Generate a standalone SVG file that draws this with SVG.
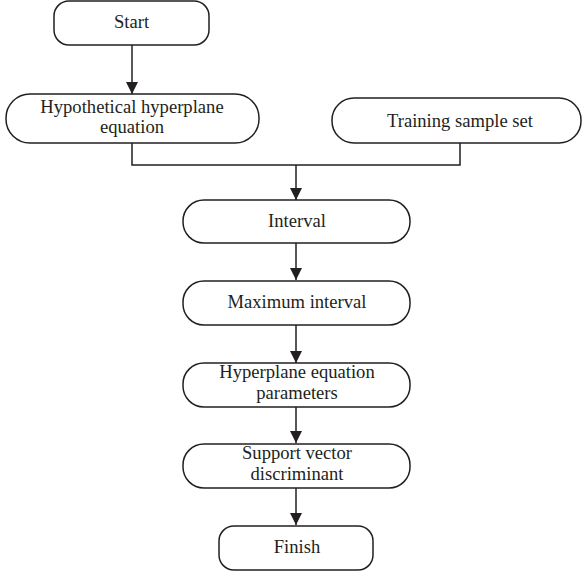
<svg xmlns="http://www.w3.org/2000/svg" width="583" height="572" viewBox="0 0 583 572">
<style>
.box{fill:#fff;stroke:#231f20;stroke-width:1.5}
.t{font-family:"Liberation Serif","Times New Roman",serif;font-size:18.6px;fill:#231f20;text-anchor:middle}
.c{fill:none;stroke:#231f20;stroke-width:1.5}
</style>
<defs>
<marker id="ah" markerWidth="12" markerHeight="13" refX="12" refY="6" orient="auto" markerUnits="userSpaceOnUse" viewBox="0 0 12 12">
<path d="M0,0 L12,6 L0,12 Z" fill="#231f20"/>
</marker>
</defs>
<rect width="583" height="572" fill="#fff"/>
<g id="connectors">
<path class="c" d="M132,45 V94" marker-end="url(#ah)"/>
<path class="c" d="M132,143 V165 H460 V143"/>
<path class="c" d="M296,165 V200" marker-end="url(#ah)"/>
<path class="c" d="M296,243 V280" marker-end="url(#ah)"/>
<path class="c" d="M296,325 V363" marker-end="url(#ah)"/>
<path class="c" d="M296,407 V443" marker-end="url(#ah)"/>
<path class="c" d="M296,488 V525" marker-end="url(#ah)"/>
</g>
<g id="start"><rect class="box" x="54" y="1" width="155" height="44" rx="15"/><text class="t" x="131.5" y="28">Start</text></g>
<g id="hypothetical"><rect class="box" x="6" y="94" width="253" height="49" rx="24"/><text class="t" x="132" y="113">Hypothetical hyperplane</text><text class="t" x="132" y="133">equation</text></g>
<g id="training"><rect class="box" x="332" y="98" width="249" height="45" rx="22"/><text class="t" x="460" y="127">Training sample set</text></g>
<g id="interval"><rect class="box" x="183" y="200" width="227" height="43" rx="21"/><text class="t" x="297" y="227">Interval</text></g>
<g id="maxinterval"><rect class="box" x="183" y="281" width="227" height="44" rx="21"/><text class="t" x="297" y="308">Maximum interval</text></g>
<g id="parameters"><rect class="box" x="183" y="363" width="227" height="44" rx="21"/><text class="t" x="297" y="378">Hyperplane equation</text><text class="t" x="297" y="399">parameters</text></g>
<g id="support"><rect class="box" x="183" y="444" width="227" height="44" rx="21"/><text class="t" x="297" y="459">Support vector</text><text class="t" x="297" y="480">discriminant</text></g>
<g id="finish"><rect class="box" x="219" y="526" width="154" height="44" rx="15"/><text class="t" x="297" y="553">Finish</text></g>
</svg>
